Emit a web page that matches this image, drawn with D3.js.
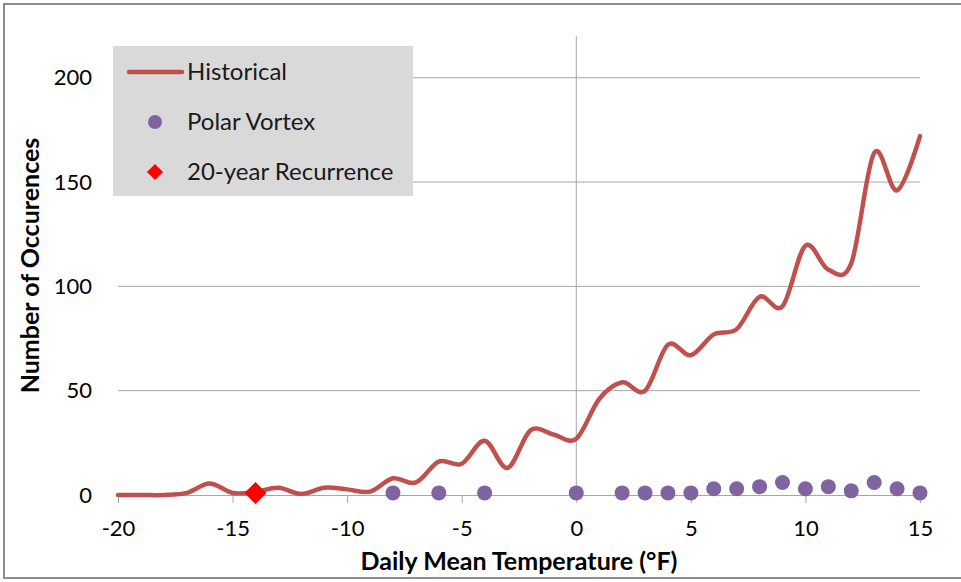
<!DOCTYPE html>
<html>
<head>
<meta charset="utf-8">
<script src="https://cdn.jsdelivr.net/npm/d3@7.9.0/dist/d3.min.js"></script>
<style>
  body { margin: 0; background: #fff; }
  svg { display: block; font-family: Lato, "Open Sans", sans-serif; }
</style>
</head>
<body>
<svg id="chart" width="961" height="582"></svg>
<script>
// temperatures (°F) and counts
const temps = [-20, -19, -18, -17, -16, -15, -14, -13, -12, -11, -10, -9, -8, -7, -6, -5, -4, -3, -2, -1,
  0, 1, 2, 3, 4, 5, 6, 7, 8, 9, 10, 11, 12, 13, 14, 15];
const historical = [0, 0, 0, 1, 5.5, 1, 1.5, 3.5, 0.5, 3.5, 2.7, 1.6, 8, 6, 16, 15, 26, 13, 31, 29,
  27, 46, 54, 50, 72, 67, 77, 79.5, 95, 90.5, 119.5, 108, 111, 164, 146, 172];

const vortexTemps = [-8, -6, -4, 0, 2, 3, 4, 5, 6, 7, 8, 9, 10, 11, 12, 13, 14, 15];
const vortexCounts = [1, 1, 1, 1, 1, 1, 1, 1, 3, 3, 4, 6, 3, 4, 2, 6, 3, 1];

const recurrence = [{ t: -14, n: 1 }];

const xTicks = [-20, -15, -10, -5, 0, 5, 10, 15];
const yTicks = [0, 50, 100, 150, 200];

const svg = d3.select('#chart');

// outer frame
svg.append('rect')
  .attr('x', 4).attr('y', 4)
  .attr('width', 980).attr('height', 574)
  .attr('fill', 'none')
  .attr('stroke', '#8c8c8c')
  .attr('stroke-width', 2);

const x = d3.scaleLinear().domain([-20, 15]).range([118, 920]);
const y = d3.scaleLinear().domain([0, 220]).range([495, 36]);

// horizontal gridlines
svg.append('g')
  .selectAll('line')
  .data(yTicks.filter(d => d > 0))
  .join('line')
  .attr('x1', x(-20)).attr('x2', x(15))
  .attr('y1', d => y(d)).attr('y2', d => y(d))
  .attr('stroke', '#a6a6a6')
  .attr('stroke-width', 1);

// y axis sits at 0 °F
svg.append('line')
  .attr('x1', x(0)).attr('x2', x(0))
  .attr('y1', y(220)).attr('y2', y(0))
  .attr('stroke', '#a6a6a6')
  .attr('stroke-width', 1);

// x axis
const xAxis = svg.append('g')
  .attr('transform', `translate(0,${y(0)})`)
  .call(d3.axisBottom(x).tickValues(xTicks).tickFormat(d => String(d))
    .tickSize(8).tickSizeOuter(0).tickPadding(17));
xAxis.select('.domain').attr('stroke', '#a6a6a6');
xAxis.selectAll('.tick line').attr('stroke', '#a6a6a6');
xAxis.selectAll('.tick text')
  .attr('font-size', 22)
  .attr('font-family', 'Lato, sans-serif')
  .attr('fill', '#000');

// y tick labels (placed at the left, not on the axis)
svg.append('g')
  .selectAll('text')
  .data(yTicks)
  .join('text')
  .attr('x', 92)
  .attr('y', d => y(d))
  .attr('dy', '0.35em')
  .attr('text-anchor', 'end')
  .attr('font-size', 22)
  .text(d => d);

// axis titles
svg.append('text')
  .attr('x', (x(-20) + x(15)) / 2)
  .attr('y', 570)
  .attr('text-anchor', 'middle')
  .attr('font-size', 25)
  .attr('font-weight', 'bold')
  .text('Daily Mean Temperature (°F)');

svg.append('text')
  .attr('transform', `translate(39,${(y(0) + y(220)) / 2}) rotate(-90)`)
  .attr('text-anchor', 'middle')
  .attr('font-size', 25)
  .attr('font-weight', 'bold')
  .text('Number of Occurences');

// historical line
const line = d3.line()
  .x((d, i) => x(temps[i]))
  .y(d => y(d))
  .curve(d3.curveCardinal.tension(0));

svg.append('path')
  .datum(historical)
  .attr('d', line)
  .attr('fill', 'none')
  .attr('stroke', '#c0504d')
  .attr('stroke-width', 4.5)
  .attr('stroke-linejoin', 'round')
  .attr('stroke-linecap', 'round');

// polar vortex points
svg.append('g')
  .selectAll('circle')
  .data(vortexTemps)
  .join('circle')
  .attr('cx', d => x(d))
  .attr('cy', (d, i) => y(vortexCounts[i]))
  .attr('r', 7.5)
  .attr('fill', '#8064a2');

// 20-year recurrence marker
svg.append('g')
  .selectAll('path')
  .data(recurrence)
  .join('path')
  .attr('d', d3.symbol(d3.symbolDiamond2, 310))
  .attr('transform', d => `translate(${x(d.t)},${y(d.n)})`)
  .attr('fill', '#ff0000');

// legend
const legend = svg.append('g');
legend.append('rect')
  .attr('x', 113).attr('y', 46)
  .attr('width', 300).attr('height', 150)
  .attr('fill', '#d9d9d9');

legend.append('line')
  .attr('x1', 129).attr('x2', 182)
  .attr('y1', 72).attr('y2', 72)
  .attr('stroke', '#c0504d')
  .attr('stroke-width', 4.5)
  .attr('stroke-linecap', 'round');
legend.append('circle')
  .attr('cx', 155).attr('cy', 122).attr('r', 7)
  .attr('fill', '#8064a2');
legend.append('path')
  .attr('d', d3.symbol(d3.symbolDiamond2, 165))
  .attr('transform', 'translate(155,172)')
  .attr('fill', '#ff0000');

const labels = ['Historical', 'Polar Vortex', '20-year Recurrence'];
legend.selectAll('text.lbl')
  .data(labels)
  .join('text')
  .attr('class', 'lbl')
  .attr('x', 187)
  .attr('y', (d, i) => 72 + i * 50)
  .attr('dy', '0.35em')
  .attr('font-size', 24)
  .attr('fill', '#1a1a1a')
  .text(d => d);
</script>
</body>
</html>
